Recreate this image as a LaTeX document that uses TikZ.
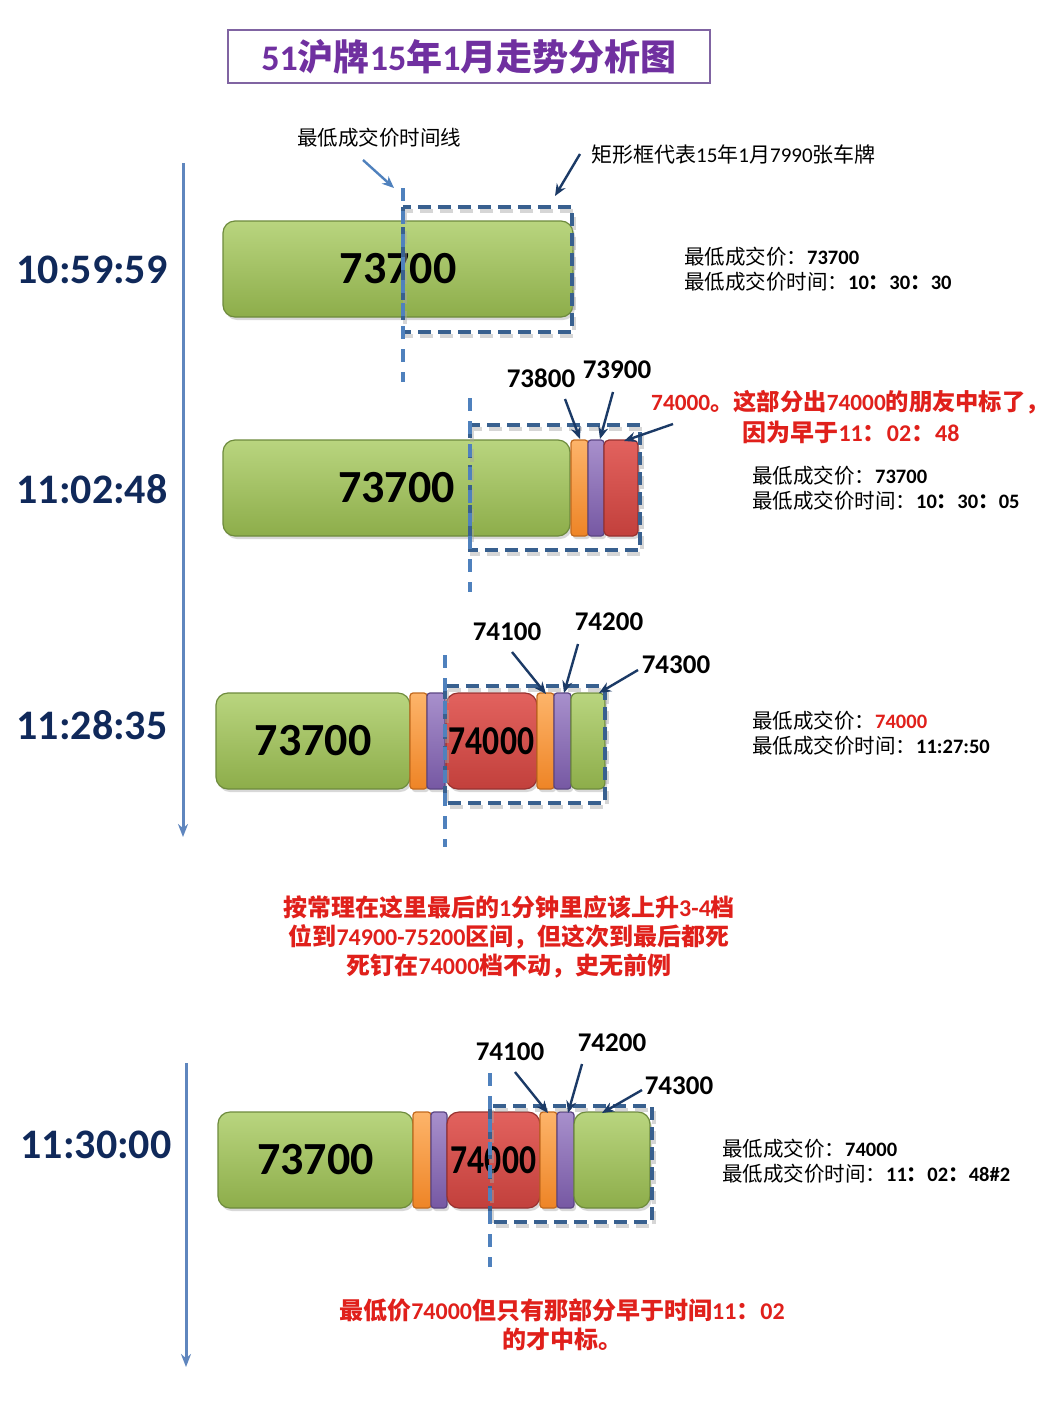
\documentclass[tikz,border=0pt]{standalone}
\usepackage{fontspec}
\setmainfont{Carlito}
\newfontfamily\cjk{Noto Sans CJK SC}
\usetikzlibrary{arrows.meta,shadows}
\newcommand\cn[1]{{\cjk #1}}
\definecolor{titlec}{HTML}{7030A0}
\definecolor{titleb}{HTML}{8064A2}
\definecolor{navy}{HTML}{10295A}
\definecolor{arrc}{HTML}{1B3A66}
\definecolor{steel}{HTML}{4F81BD}
\definecolor{axisc}{HTML}{5F86BE}
\definecolor{dashc}{HTML}{38608F}
\definecolor{redt}{HTML}{E0201B}
\definecolor{glight}{HTML}{B9D57F}
\definecolor{gdark}{HTML}{8DAD4A}
\definecolor{gborder}{HTML}{6E8B3D}
\definecolor{olight}{HTML}{FDB46A}
\definecolor{odark}{HTML}{EE8426}
\definecolor{oborder}{HTML}{C26A1E}
\definecolor{plight}{HTML}{A890CC}
\definecolor{pdark}{HTML}{7658A3}
\definecolor{pborder}{HTML}{5C4683}
\definecolor{rlight}{HTML}{E2625E}
\definecolor{rdark}{HTML}{C2403C}
\definecolor{rborder}{HTML}{983230}
\tikzset{
  barbase/.style={line width=1.2pt, inner sep=0pt, minimum height=96pt,
    drop shadow={opacity=0.3, shadow xshift=2pt, shadow yshift=-3pt}},
  gbox/.style={barbase, draw=gborder, top color=glight, bottom color=gdark, rounded corners=12pt,
    font=\fontsize{46}{50}\selectfont\bfseries},
  gbar/.style={barbase, draw=gborder, top color=glight, bottom color=gdark, rounded corners=6pt},
  obar/.style={barbase, draw=oborder, top color=olight, bottom color=odark, rounded corners=3pt},
  pbar/.style={barbase, draw=pborder, top color=plight, bottom color=pdark, rounded corners=3pt},
  rbar/.style={barbase, draw=rborder, top color=rlight, bottom color=rdark, rounded corners=5pt,
    font=\fontsize{41}{44}\selectfont\bfseries},
  dashrect/.style={draw=dashc, line width=4.5pt, dash pattern=on 13pt off 7pt},
  dashshadow/.style={draw=black!35, opacity=0.45, line width=4.5pt, dash pattern=on 13pt off 7pt},
  timeline/.style={draw=steel, line width=4pt, dash pattern=on 13pt off 10pt},
  tlabel/.style={text=navy, font=\fontsize{42}{46}\selectfont\bfseries, inner sep=0pt},
  axis/.style={draw=axisc, line width=3pt, -{Stealth[length=13pt,width=10pt]}},
  callout/.style={draw=arrc, line width=2.4pt, -{Stealth[length=12pt,width=10pt]}},
  numlab/.style={font=\fontsize{27}{30}\selectfont\bfseries, inner sep=0pt},
  info/.style={font=\fontsize{20.5}{25}\selectfont, anchor=west, inner sep=0pt, align=left},
  redtxt/.style={text=redt, font=\fontsize{24}{29}\selectfont\bfseries, inner sep=0pt, align=center},
}
\begin{document}
\begin{tikzpicture}[x=1pt,y=-1pt]
\useasboundingbox[fill=white] (0,0) rectangle (1057,1403);

% title
\node[draw=titleb, line width=2.5pt, minimum width=482pt, minimum height=53pt, inner sep=0pt,
  text=titlec, font=\fontsize{36}{40}\selectfont\bfseries] (title) at (469,56.5)
  {51\cn{沪牌}15\cn{年}1\cn{月走势分析图}};

% time axes
\coordinate (ax1s) at (183,163); \coordinate (ax1e) at (183,837);
\draw[axis] (ax1s) -- (ax1e);
\coordinate (ax2s) at (186,1063); \coordinate (ax2e) at (186,1367);
\draw[axis] (ax2s) -- (ax2e);

% time labels
\node[tlabel] (t1) at (92,270) {10:59:59};
\node[tlabel] (t2) at (92,489) {11:02:48};
\node[tlabel] (t3) at (92,725) {11:28:35};
\node[tlabel] (t4) at (96,1145) {11:30:00};

% ---------- row 1 ----------
\node[gbox, minimum width=350pt] (r1g) at (398,269) {73700};
\draw[dashshadow] (405,211) rectangle (574,336);
\draw[dashrect] (403,207) rectangle (572,332);
\coordinate (v1a) at (403,188); \coordinate (v1b) at (403,382);
\draw[timeline] (v1a) -- (v1b);
\node[font=\fontsize{20.5}{24}\selectfont, inner sep=0pt] (lline) at (379,138) {\cn{最低成交价时间线}};
\coordinate (lla) at (363,160); \coordinate (llb) at (394,188);
\draw[draw=steel, line width=2.4pt, -{Stealth[length=12pt,width=10pt]}] (lla) -- (llb);
\node[font=\fontsize{21}{24}\selectfont, anchor=west, inner sep=0pt] (lrect) at (591,155)
  {\cn{矩形框代表}15\cn{年}1\cn{月}7990\cn{张车牌}};
\coordinate (lra) at (580,154); \coordinate (lrb) at (555,196);
\draw[callout] (lra) -- (lrb);
\node[info] (i1) at (684,269) {\cn{最低成交价：}\textbf{73700}\\\cn{最低成交价时间：}\textbf{10\cn{：}30\cn{：}30}};

% ---------- row 2 ----------
\node[gbox, minimum width=347pt] (r2g) at (396.5,488) {73700};
\node[obar, minimum width=17pt] (r2o) at (579.5,488) {};
\node[pbar, minimum width=16pt] (r2p) at (596,488) {};
\node[rbar, minimum width=34pt] (r2r) at (621,488) {};
\draw[dashshadow] (472,429) rectangle (642,554);
\draw[dashrect] (470,425) rectangle (640,550);
\coordinate (v2a) at (470,398); \coordinate (v2b) at (470,592);
\draw[timeline] (v2a) -- (v2b);
\node[numlab] (n73800) at (541,378) {73800};
\node[numlab] (n73900) at (617,370) {73900};
\coordinate (a1s) at (565,399); \coordinate (a1e) at (580,439);
\coordinate (a2s) at (613,392); \coordinate (a2e) at (600,439);
\coordinate (a3s) at (673,424); \coordinate (a3e) at (624,441);
\draw[callout] (a1s) -- (a1e);
\draw[callout] (a2s) -- (a2e);
\draw[callout] (a3s) -- (a3e);
\node[redtxt, anchor=west, font=\fontsize{23.3}{29}\selectfont\bfseries] (red1) at (651,402) {74000\cn{。这部分出}74000\cn{的朋友中标了，}};
\node[redtxt] (red2) at (851,432) {\cn{因为早于}11\cn{：}02\cn{：}48};
\node[info] (i2) at (752,488) {\cn{最低成交价：}\textbf{73700}\\\cn{最低成交价时间：}\textbf{10\cn{：}30\cn{：}05}};

% ---------- row 3 ----------
\node[gbox, minimum width=194pt] (r3g) at (313,741) {73700};
\node[obar, minimum width=17pt] (r3o1) at (418.5,741) {};
\node[pbar, minimum width=18pt] (r3p1) at (436,741) {};
\node[rbar, minimum width=91pt, rounded corners=12pt] (r3r) at (491.5,741) {\scalebox{0.82}[1]{74000}};
\node[obar, minimum width=17pt] (r3o2) at (545.5,741) {};
\node[pbar, minimum width=17pt] (r3p2) at (562.5,741) {};
\node[gbar, minimum width=34pt] (r3g2) at (588,741) {};
\draw[dashshadow] (447,690) rectangle (607,807);
\draw[dashrect] (445,686) rectangle (605,803);
\coordinate (v3a) at (445,655); \coordinate (v3b) at (445,847);
\draw[timeline] (v3a) -- (v3b);
\node[numlab] (n74100a) at (507,632) {74100};
\node[numlab] (n74200a) at (609,622) {74200};
\node[numlab] (n74300a) at (676,665) {74300};
\coordinate (b1s) at (512,652); \coordinate (b1e) at (546,694);
\coordinate (b2s) at (578,644); \coordinate (b2e) at (564,693);
\coordinate (b3s) at (638,670); \coordinate (b3e) at (599,693);
\draw[callout] (b1s) -- (b1e);
\draw[callout] (b2s) -- (b2e);
\draw[callout] (b3s) -- (b3e);
\node[info] (i3) at (752,733) {\cn{最低成交价：}\textbf{\color{redt}74000}\\\cn{最低成交价时间：}\textbf{11:27:50}};

% middle note
\node[redtxt] (mid) at (509,937) {\cn{按常理在这里最后的}1\cn{分钟里应该上升}3-4\cn{档}\\
  \cn{位到}74900-75200\cn{区间，但这次到最后都死}\\\cn{死钉在}74000\cn{档不动，史无前例}};

% ---------- row 4 ----------
\node[gbox, minimum width=195pt] (r4g) at (315.5,1160) {73700};
\node[obar, minimum width=18pt] (r4o1) at (422,1160) {};
\node[pbar, minimum width=16pt] (r4p1) at (439,1160) {};
\node[rbar, minimum width=93pt, rounded corners=12pt] (r4r) at (493.5,1160) {\scalebox{0.82}[1]{74000}};
\node[obar, minimum width=17pt] (r4o2) at (548.5,1160) {};
\node[pbar, minimum width=17pt] (r4p2) at (565.5,1160) {};
\node[gbar, minimum width=76pt, rounded corners=12pt] (r4g2) at (612,1160) {};
\draw[dashshadow] (492,1110) rectangle (654,1226);
\draw[dashrect] (490,1106) rectangle (652,1222);
\coordinate (v4a) at (490,1073); \coordinate (v4b) at (490,1267);
\draw[timeline] (v4a) -- (v4b);
\node[numlab] (n74100b) at (510,1052) {74100};
\node[numlab] (n74200b) at (612,1043) {74200};
\node[numlab] (n74300b) at (679,1086) {74300};
\coordinate (c1s) at (515,1072); \coordinate (c1e) at (548,1113);
\coordinate (c2s) at (582,1064); \coordinate (c2e) at (568,1113);
\coordinate (c3s) at (642,1090); \coordinate (c3e) at (602,1113);
\draw[callout] (c1s) -- (c1e);
\draw[callout] (c2s) -- (c2e);
\draw[callout] (c3s) -- (c3e);
\node[info] (i4) at (722,1161) {\cn{最低成交价：}\textbf{74000}\\\cn{最低成交价时间：}\textbf{11\cn{：}02\cn{：}48\#2}};

% bottom note
\node[redtxt] (bot) at (562,1325) {\cn{最低价}74000\cn{但只有那部分早于时间}11\cn{：}02\\\cn{的才中标。}};
\end{tikzpicture}
\end{document}
